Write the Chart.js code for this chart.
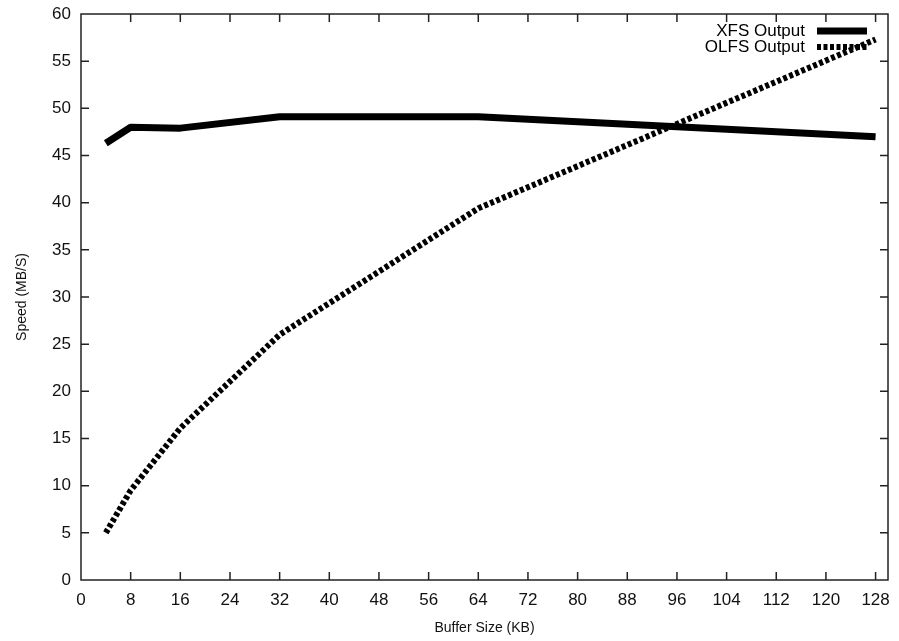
<!DOCTYPE html>
<html>
<head>
<meta charset="utf-8">
<script src="https://cdn.jsdelivr.net/npm/chart.js@4"></script>
<style>
  html, body { margin: 0; padding: 0; background: #fff; }
  #wrap { width: 899px; height: 641px; }
</style>
</head>
<body>
<div id="wrap"><canvas id="speedChart"></canvas></div>
<script>
// valores
const bufferSizes = [4, 8, 16, 32, 64, 128];
const xfsOutput = [46.3, 48.0, 47.9, 49.1, 49.1, 47.0];
const olfsOutput = [5.0, 9.5, 16.1, 26.0, 39.4, 57.3];
const xTicks = [0, 8, 16, 24, 32, 40, 48, 56, 64, 72, 80, 88, 96, 104, 112, 120, 128];
const yTicks = [0, 5, 10, 15, 20, 25, 30, 35, 40, 45, 50, 55, 60];

const fuente = 'Liberation Sans, Arial, sans-serif';

// marco y marcas hacia dentro, estilo gnuplot
const marcoPlugin = {
    id: 'marco',
    afterDatasetsDraw(chart) {
        const { ctx, chartArea: a, scales } = chart;
        ctx.save();
        ctx.strokeStyle = '#222';
        ctx.lineWidth = 1.5;
        ctx.strokeRect(a.left, a.top, a.right - a.left, a.bottom - a.top);
        ctx.beginPath();
        xTicks.forEach(v => {
            const px = scales.x.getPixelForValue(v);
            if (v > 0) {
                ctx.moveTo(px, a.bottom); ctx.lineTo(px, a.bottom - 8);
                ctx.moveTo(px, a.top); ctx.lineTo(px, a.top + 8);
            }
        });
        yTicks.forEach(v => {
            const py = scales.y.getPixelForValue(v);
            if (v > 0 && v < 60) {
                ctx.moveTo(a.left, py); ctx.lineTo(a.left + 8, py);
                ctx.moveTo(a.right, py); ctx.lineTo(a.right - 8, py);
            }
        });
        ctx.stroke();
        ctx.restore();
    }
};

// leyenda: texto a la izquierda, muestra de línea a la derecha
const leyendaPlugin = {
    id: 'leyenda',
    afterDatasetsDraw(chart) {
        const { ctx, chartArea: a } = chart;
        ctx.save();
        ctx.font = '17px ' + fuente;
        ctx.textAlign = 'right';
        ctx.textBaseline = 'middle';
        chart.data.datasets.forEach((ds, i) => {
            const y = a.top + 17 + i * 16;
            const xFin = a.right - 21;
            ctx.fillStyle = '#000';
            ctx.fillText(ds.label, xFin - 62, y);
            ctx.beginPath();
            ctx.strokeStyle = ds.borderColor;
            ctx.lineWidth = ds.borderWidth;
            ctx.setLineDash(ds.borderDash || []);
            ctx.moveTo(xFin - 50, y);
            ctx.lineTo(xFin, y);
            ctx.stroke();
        });
        ctx.restore();
    }
};

const chart = new Chart(document.getElementById('speedChart'), {
    type: 'line',
    data: {
        datasets: [
            {
                label: 'XFS Output',
                data: bufferSizes.map((x, i) => ({ x: x, y: xfsOutput[i] })),
                borderColor: '#000',
                borderWidth: 7,
                pointRadius: 0,
                tension: 0,
                borderJoinStyle: 'round'
            },
            {
                label: 'OLFS Output',
                data: bufferSizes.map((x, i) => ({ x: x, y: olfsOutput[i] })),
                borderColor: '#000',
                borderWidth: 6,
                borderDash: [4, 2.5],
                pointRadius: 0,
                tension: 0
            }
        ]
    },
    options: {
        responsive: true,
        maintainAspectRatio: false,
        animation: false,
        layout: { autoPadding: false, padding: { top: 14, right: 11, left: 14, bottom: 0 } },
        plugins: {
            legend: { display: false },
            tooltip: { enabled: false }
        },
        scales: {
            x: {
                type: 'linear',
                min: 0,
                max: 130,
                afterBuildTicks: s => { s.ticks = xTicks.map(v => ({ value: v })); },
                afterFit: s => { s.height = 61; s.paddingLeft = 0; s.paddingRight = 0; },
                grid: { display: false },
                border: { display: false },
                ticks: {
                    color: '#111',
                    font: { family: fuente, size: 17 },
                    padding: 2,
                    maxRotation: 0,
                    autoSkip: false
                },
                title: {
                    display: true,
                    text: 'Buffer Size (KB)',
                    color: '#111',
                    font: { family: fuente, size: 14 },
                    padding: { top: 2, bottom: 4 }
                }
            },
            y: {
                type: 'linear',
                min: 0,
                max: 60,
                afterBuildTicks: s => { s.ticks = yTicks.map(v => ({ value: v })); },
                afterFit: s => { s.width = 67; s.paddingTop = 0; s.paddingBottom = 0; },
                grid: { display: false },
                border: { display: false },
                ticks: {
                    color: '#111',
                    font: { family: fuente, size: 17 },
                    padding: 2
                },
                title: {
                    display: true,
                    text: 'Speed (MB/S)',
                    color: '#111',
                    font: { family: fuente, size: 14 },
                    padding: { top: 0, bottom: 0 }
                }
            }
        }
    },
    plugins: [marcoPlugin, leyendaPlugin]
});
</script>
</body>
</html>
